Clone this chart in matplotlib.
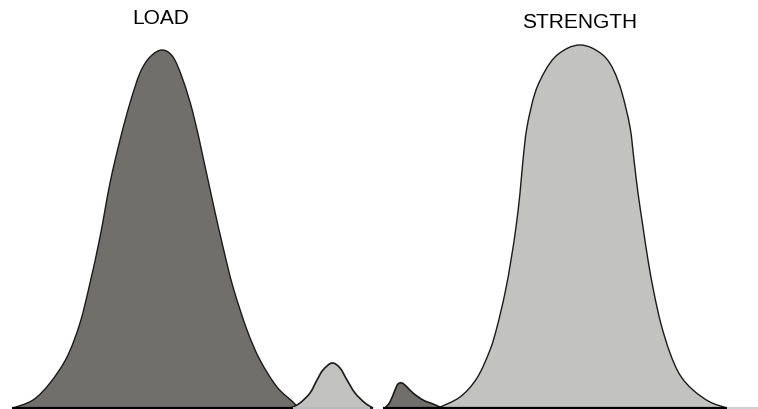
import numpy as np
import matplotlib.pyplot as plt
from matplotlib.path import Path
from matplotlib.patches import PathPatch

# outline points (x position, height above baseline)
load_x = [13, 33, 50, 67, 80, 90, 100, 110, 120, 130, 140, 150, 162,
          173, 183, 193, 203, 213, 223, 233, 247, 260, 277, 293, 298]
load_h = [0, 8, 25, 51, 85, 125, 171, 225, 268, 305, 335, 351, 358,
          351, 328, 295, 251, 205, 161, 121, 78, 48, 21, 6, 0]

strength_x = [438, 460, 477, 490, 497, 505, 511, 516, 520, 523, 527, 535, 545,
              555, 568, 580, 592, 605, 614, 622, 630, 634, 638, 643, 648, 654,
              661, 670, 680, 693, 710, 727]
strength_h = [0, 11, 30, 58, 81, 115, 148, 181, 215, 248, 281, 315, 337,
              351, 360, 363, 360, 351, 337, 315, 281, 248, 215, 181, 148, 115,
              84, 55, 33, 18, 6, 0]

# small tails in the overlap zone
load_tail_x = [385, 390, 395, 398, 402, 407, 413, 423, 433, 442]
load_tail_h = [0, 6, 18, 24, 25, 21, 15, 8, 4, 0]

strength_tail_x = [291, 300, 310, 317, 323, 332, 340, 347, 355, 365, 373]
strength_tail_h = [0, 5, 15, 28, 38, 45, 40, 28, 15, 5, 0]

labels = ["LOAD", "STRENGTH"]
label_x = [161, 580]
label_y = [389, 386]

dark = "#716f6c"
light = "#c2c2c0"
edge = "#1a1a1a"


def smooth_patch(xs, hs, color, lw):
    # catmull-rom through the read points, drawn as bezier segments
    p = np.column_stack([xs, hs]).astype(float)
    ext = np.vstack([p[0], p, p[-1]])
    verts = [p[0]]
    codes = [Path.MOVETO]
    for i in range(1, len(ext) - 2):
        c1 = ext[i] + (ext[i + 1] - ext[i - 1]) / 6
        c2 = ext[i + 1] - (ext[i + 2] - ext[i]) / 6
        verts += [c1, c2, ext[i + 1]]
        codes += [Path.CURVE4] * 3
    verts.append(p[0])
    codes.append(Path.CLOSEPOLY)
    return PathPatch(Path(verts, codes), facecolor=color, edgecolor=edge, lw=lw)


fig = plt.figure(figsize=(7.58, 4.09), dpi=100)
ax = fig.add_axes([0, 0, 1, 1])

ax.add_patch(smooth_patch(load_x, load_h, dark, 1.0)).set_zorder(2)
ax.add_patch(smooth_patch(strength_tail_x, strength_tail_h, light, 1.2)).set_zorder(3)
ax.add_patch(smooth_patch(load_tail_x, load_tail_h, dark, 1.2)).set_zorder(2)
ax.add_patch(smooth_patch(strength_x, strength_h, light, 1.0)).set_zorder(3)

# baseline
ax.plot([12, 293], [0, 0], color="black", lw=1.6, zorder=4, solid_capstyle="butt")
ax.plot([293, 370], [0, 0], color="#b8b8b8", lw=1.6, zorder=4, solid_capstyle="butt")
ax.plot([383, 727], [0, 0], color="black", lw=1.6, zorder=4, solid_capstyle="butt")
ax.plot([727, 758], [0, 0], color="#d0d0d0", lw=1.6, zorder=4, solid_capstyle="butt")

for lab, x, y in zip(labels, label_x, label_y):
    ax.text(x, y, lab, ha="center", va="center", fontsize=15,
            family="Liberation Sans", color="black")

ax.set_xlim(0, 758)
ax.set_ylim(-1, 408)
ax.axis("off")

fig.savefig("out.png", dpi=100)
